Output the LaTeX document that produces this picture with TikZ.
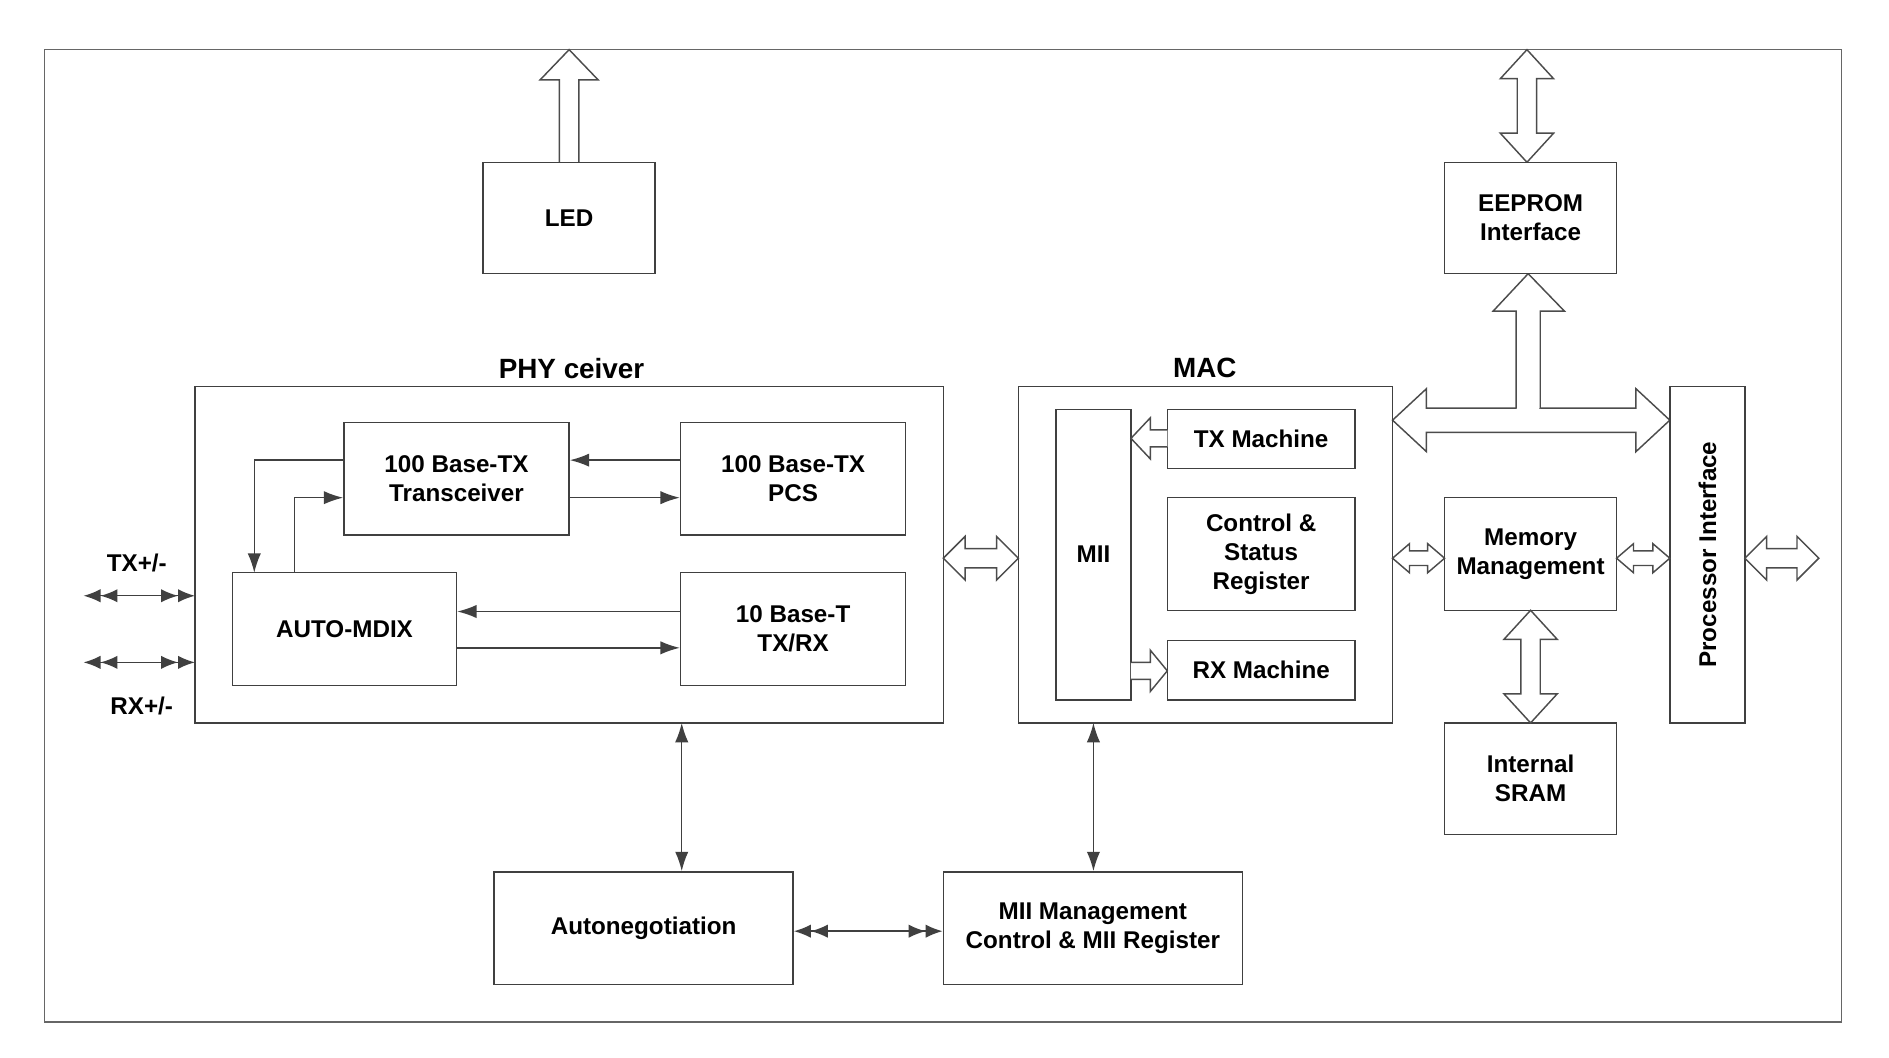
\documentclass[tikz,border=0pt]{standalone}
\usepackage{fontspec}
\setmainfont{Liberation Sans}
\usetikzlibrary{arrows.meta}
\newcommand\hdarr[6]{\draw[hollow] (#1,#3) -- (#1+#6,#3-#5) -- (#1+#6,#3-#4) -- (#2-#6,#3-#4) -- (#2-#6,#3-#5) -- (#2,#3) -- (#2-#6,#3+#5) -- (#2-#6,#3+#4) -- (#1+#6,#3+#4) -- (#1+#6,#3+#5) -- cycle;}
\newcommand\vdarr[6]{\draw[hollow] (#3,#1) -- (#3-#5,#1+#6) -- (#3-#4,#1+#6) -- (#3-#4,#2-#6) -- (#3-#5,#2-#6) -- (#3,#2) -- (#3+#5,#2-#6) -- (#3+#4,#2-#6) -- (#3+#4,#1+#6) -- (#3+#5,#1+#6) -- cycle;}
\begin{document}
\begin{tikzpicture}[x=0.5pt,y=-0.5pt,
  box/.style={draw=black!75,line width=0.6pt,fill=white,align=center,font=\fontsize{10}{12}\selectfont\bfseries},
  hollow/.style={draw=black!70,line width=0.6pt,fill=white},
  con/.style={draw=black!75,line width=0.6pt},
  tip/.style={-{Latex[length=8pt,width=5.5pt]}},
  dtip/.style={{Latex[length=8pt,width=5.5pt]}-{Latex[length=8pt,width=5.5pt]}},
  ddtip/.style={{Latex[length=7pt,width=5.5pt] Latex[length=7pt,width=5.5pt]}-{Latex[length=7pt,width=5.5pt] Latex[length=7pt,width=5.5pt]}},
  lbl/.style={font=\fontsize{10}{12}\selectfont\bfseries},
  ttl/.style={font=\fontsize{11.5}{13}\selectfont\bfseries}]
\useasboundingbox[fill=white] (0,0) rectangle (1560,873);
\draw[black!60,line width=0.5pt] (37,41) rectangle (1521,844);
% hollow arrows top
\draw[hollow] (462,134) -- (462,66) -- (446,66) -- (470,41) -- (494,66) -- (478,66) -- (478,134);
\vdarr{41}{134}{1261}{8}{22}{24}
\hdarr{1150}{1379}{347}{10}{26}{28}
\fill[white] (1253,330) rectangle (1271,338);
\draw[hollow] (1252,337.3) -- (1252,257) -- (1233,257) -- (1262,226) -- (1292,257) -- (1272,257) -- (1272,337.3);
% boxes
\node[box,minimum width=71pt,minimum height=46pt] (led) at (470,180) {LED};
\node[box,minimum width=71pt,minimum height=46pt] (eep) at (1264,180) {EEPROM\\Interface};
\draw[con] (161,319) rectangle (779,597);
\node[ttl] (phyt) at (472,304) {PHY ceiver};
\draw[con] (841,319) rectangle (1150,597);
\node[ttl] (mact) at (995,304) {MAC};
\node[box,minimum width=93pt,minimum height=46.5pt] (trx) at (377,395.5) {100 Base-TX\\Transceiver};
\node[box,minimum width=93pt,minimum height=46.5pt] (pcs) at (655,395.5) {100 Base-TX\\PCS};
\node[box,minimum width=92.5pt,minimum height=46.5pt] (mdix) at (284.5,519.5) {AUTO-MDIX};
\node[box,minimum width=93pt,minimum height=46.5pt] (tbt) at (655,519.5) {10 Base-T\\TX/RX};
\node[box,minimum width=31pt,minimum height=120pt] (mii) at (903,458) {MII};
\node[box,minimum width=77.5pt,minimum height=24.5pt] (txm) at (1041.5,362.5) {TX Machine};
\node[box,minimum width=77.5pt,minimum height=46.5pt] (csr) at (1041.5,457.5) {Control \&\\Status\\Register};
\node[box,minimum width=77.5pt,minimum height=24.5pt] (rxm) at (1041.5,553.5) {RX Machine};
\node[box,minimum width=71pt,minimum height=46.5pt] (mem) at (1264,457.5) {Memory\\Management};
\node[box,minimum width=71pt,minimum height=46pt] (sram) at (1264,643) {Internal\\SRAM};
\node[box,minimum width=31pt,minimum height=139pt] (proc) at (1410,458) {};
\node[lbl,rotate=90] (proct) at (1410,458) {Processor Interface};
\node[box,minimum width=123.5pt,minimum height=46.5pt] (auto) at (531.5,766.5) {Autonegotiation};
\node[box,minimum width=123.5pt,minimum height=46.5pt] (miim) at (902.5,766.5) {MII Management\\Control \& MII Register};
% hollow arrows
\hdarr{779}{841}{461}{8}{18}{18}
\hdarr{1150}{1193}{461}{6}{12}{14}
\hdarr{1335}{1379}{461}{6}{12}{14}
\hdarr{1441}{1502}{461}{8}{18}{18}
\vdarr{504}{597}{1264}{8}{22}{24}
\draw[hollow] (964,355) -- (950,355) -- (950,345) -- (934,362) -- (950,379) -- (950,369) -- (964,369);
\draw[hollow] (934,547) -- (950,547) -- (950,537) -- (964,554) -- (950,571) -- (950,561) -- (934,561);
% connectors
\draw[con,tip] (pcs.west |- 0,380) -- (trx.east |- 0,380);
\draw[con,tip] (trx.east |- 0,411) -- (pcs.west |- 0,411);
\draw[con,tip] (trx.west |- 0,380) -- (210,380) -- (210,473);
\draw[con,tip] (243,473) -- (243,411) -- (trx.west |- 0,411);
\draw[con,tip] (tbt.west |- 0,505) -- (mdix.east |- 0,505);
\draw[con,tip] (mdix.east |- 0,535) -- (tbt.west |- 0,535);
\coordinate (tx1) at (69,492); \coordinate (tx2) at (161,492);
\coordinate (rx1) at (69,547); \coordinate (rx2) at (161,547);
\draw[con,ddtip] (tx1) -- (tx2);
\draw[con,ddtip] (rx1) -- (rx2);
\node[lbl] (txl) at (113,465) {TX+/-};
\node[lbl] (rxl) at (117,583) {RX+/-};
\coordinate (pb) at (563,597); \coordinate (mb) at (903,597);
\draw[con,dtip] (pb) -- (auto.north -| pb);
\draw[con,dtip] (mb) -- (miim.north -| mb);
\draw[con,ddtip] (auto.east |- 0,769) -- (miim.west |- 0,769);
\end{tikzpicture}
\end{document}
